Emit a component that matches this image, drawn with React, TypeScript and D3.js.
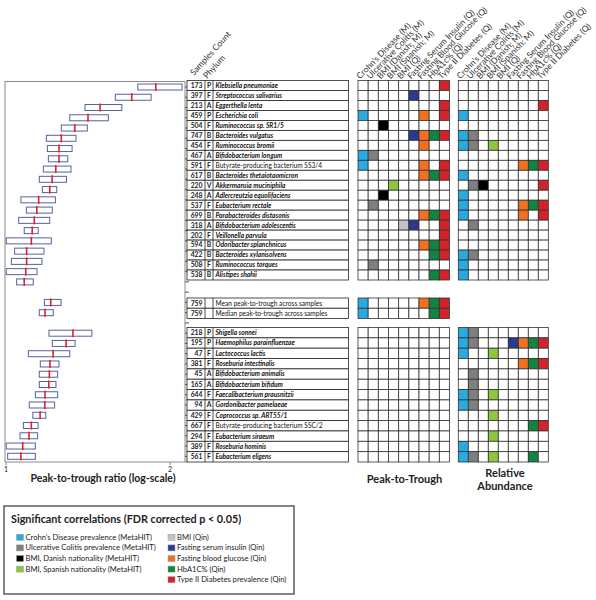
import React from "react";
import * as d3 from "d3";

// ---------- DATA ----------
const topNames = [
  "Klebsiella pneumoniae", "Streptococcus salivarius", "Eggerthella lenta", "Escherichia coli",
  "Ruminococcus sp. SR1/5", "Bacteroides vulgatus", "Ruminococcus bromii", "Bifidobacterium longum",
  "Butyrate-producing bacterium SS3/4", "Bacteroides thetaiotaomicron", "Akkermansia muciniphila",
  "Adlercreutzia equolifaciens", "Eubacterium rectale", "Parabacteroides distasonis",
  "Bifidobacterium adolescentis", "Veillonella parvula", "Odoribacter splanchnicus",
  "Bacteroides xylanisolvens", "Ruminococcus torques", "Alistipes shahii",
];
const topCounts = [173, 397, 213, 459, 504, 747, 454, 467, 591, 617, 220, 248, 537, 699, 318, 202, 594, 422, 508, 538];
const topPhyla = ["P", "F", "A", "P", "F", "B", "F", "A", "F", "B", "V", "A", "F", "B", "A", "F", "B", "B", "F", "B"];
// [q1, median, q3]
const topBoxes = [
  [1.745, 1.883, 2.104], [1.587, 1.701, 1.846], [1.396, 1.488, 1.631], [1.309, 1.414, 1.541],
  [1.263, 1.337, 1.41], [1.186, 1.263, 1.344], [1.191, 1.251, 1.322], [1.196, 1.251, 1.298],
  [1.171, 1.234, 1.316], [1.151, 1.215, 1.291], [1.166, 1.203, 1.239], [1.065, 1.148, 1.232],
  [1.09, 1.139, 1.216], [1.055, 1.127, 1.203], [1.08, 1.117, 1.146], [1.001, 1.113, 1.211],
  [1.037, 1.091, 1.174], [1.023, 1.091, 1.164], [1.001, 1.087, 1.14], [1.046, 1.08, 1.122],
];
const topPT = [[8], [5], [8], [0, 6, 8], [2], [5, 6, 7, 8], [6], [0, 1], [0, 6, 8], [6, 7, 8], [3], [2], [1], [6, 7, 8], [4, 5, 8], [8], [6, 7, 8], [7, 8], [1], [7, 8]];
const topRA = [[], [], [8], [0], [], [0, 1], [0, 1, 3], [], [6, 7, 8], [0], [1, 2, 8], [0], [0, 6, 7, 8], [0, 6, 8], [1], [], [], [0, 1], [0], [0]];

const meanNames = ["Mean peak-to-trough across samples", "Median peak-to-trough across samples"];
const meanCounts = [759, 759];
const meanBoxes = [[1.176, 1.208, 1.262], [1.151, 1.179, 1.221]];
const meanPT = [[0, 6, 7, 8], [0, 7, 8]];

const botNames = [
  "Shigella sonnei", "Haemophilus parainfluenzae", "Lactococcus lactis", "Roseburia intestinalis",
  "Bifidobacterium animalis", "Bifidobacterium bifidum", "Faecalibacterium prausnitzii",
  "Gordonibacter pamelaeae", "Coprococcus sp. ART55/1", "Butyrate-producing bacterium SSC/2",
  "Eubacterium siraeum", "Roseburia hominis", "Eubacterium eligens",
];
const botCounts = [218, 195, 47, 381, 45, 165, 644, 94, 429, 667, 294, 389, 561];
const botPhyla = ["P", "P", "F", "F", "A", "A", "F", "A", "F", "F", "F", "F", "F"];
const botBoxes = [
  [1.199, 1.327, 1.437], [1.216, 1.289, 1.339], [1.099, 1.22, 1.309], [1.156, 1.204, 1.251],
  [1.151, 1.201, 1.244], [1.151, 1.198, 1.235], [1.132, 1.179, 1.244], [1.103, 1.178, 1.228],
  [1.12, 1.155, 1.183], [1.076, 1.113, 1.145], [1.061, 1.102, 1.143], [1.001, 1.073, 1.132],
  [1.007, 1.065, 1.132],
];
const botPT = botNames.map(() => [] as number[]);
const botRA = [[0, 1], [0, 1, 5, 6, 7, 8], [0, 3], [6, 7, 8], [1], [1], [0, 1, 3], [0, 1], [3], [7, 8], [3], [0], [0, 1, 3, 7]];

const columnLabels = [
  "Crohn’s Disease (M)", "Ulcerative Colitis (M)", "BMI (Danish; M)", "BMI (Spanish; M)", "BMI (Q)",
  "Fasting Serum Insulin (Q)", "Fasting Blood Glucose (Q)", "HbA1c% (Q)", "Type II Diabetes (Q)",
];
const colors = ["#29abe2", "#7f7f7f", "#000000", "#8dc63f", "#c4c4c4", "#2b3990", "#f37021", "#108442", "#d2232a"];
const legendLabels = [
  "Crohn’s Disease prevalence (MetaHIT)", "Ulcerative Colitis prevalence (MetaHIT)",
  "BMI, Danish nationality (MetaHIT)", "BMI, Spanish nationality (MetaHIT)", "BMI (Qin)",
  "Fasting serum insulin (Qin)", "Fasting blood glucose (Qin)", "HbA1C% (Qin)",
  "Type II Diabetes prevalence (Qin)",
];
const axisTicks = [1, 2];

const FONT = "Lato, 'Open Sans', sans-serif";

type Block = {
  names: string[]; counts: number[]; phyla: string[] | null; boxes: number[][];
  pt: number[][]; ra: number[][] | null; y0: number; y1: number; slot0: number;
};

export default function App() {
  const W = 596, H = 600;
  const blocks: Block[] = [
    { names: topNames, counts: topCounts, phyla: topPhyla, boxes: topBoxes, pt: topPT, ra: topRA, y0: 80.5, y1: 280, slot0: 0 },
    { names: meanNames, counts: meanCounts, phyla: null, boxes: meanBoxes, pt: meanPT, ra: null, y0: 298, y1: 318.5, slot0: 21 },
    { names: botNames, counts: botCounts, phyla: botPhyla, boxes: botBoxes, pt: botPT, ra: botRA, y0: 327.5, y1: 462, slot0: 24 },
  ];

  const x = d3.scaleLog().domain([1, 2.13]).range([6, 185]);
  const ySlot = d3.scalePoint<number>().domain(d3.range(37)).range([87, 456.3]);
  const colIdx = d3.range(9);
  const xPT = d3.scaleBand<number>().domain(colIdx).range([358, 449.5]);
  const xRA = d3.scaleBand<number>().domain(colIdx).range([458.3, 548.3]);

  const tableLeft = 187, cCountR = 205, cPhyR = 213, tableRight = 348.5;

  const heat = (xs: d3.ScaleBand<number>, data: number[][], yb: d3.ScaleBand<number>, key: string) =>
    data.map((row, r) =>
      colIdx.map((c) => (
        <rect key={`${key}-${r}-${c}`} x={xs(c)} y={yb(r)} width={xs.bandwidth()} height={yb.bandwidth()}
          fill={row.includes(c) ? colors[c] : "#fff"} stroke="#333" strokeWidth={0.8} />
      ))
    );

  return (
    <svg width={W} height={H} style={{ position: "absolute", left: 0, top: 0, background: "#fff" }} fontFamily={FONT}>
      <rect width={W} height={H} fill="#fff" />
      {/* Box plot frame */}
      <g stroke="#8a8a8a" strokeWidth={1} fill="none">
        <line x1={5} x2={5} y1={81} y2={462} />
        <line x1={5} x2={185} y1={81.5} y2={81.5} />
        <line x1={185} x2={185} y1={81} y2={462} />
        <line x1={5} x2={188} y1={462} y2={462} />
        {d3.range(37).map((s) => (
          <line key={`t${s}`} x1={185} x2={189} y1={ySlot(s)} y2={ySlot(s)} stroke="#555" />
        ))}
        {axisTicks.map((t) => (
          <line key={`xt${t}`} x1={x(t)} x2={x(t)} y1={462} y2={465} />
        ))}
      </g>
      {axisTicks.map((t) => (
        <text key={`xl${t}`} x={x(t)} y={472} fontSize={7} textAnchor="middle" fill="#222">{t}</text>
      ))}
      {/* Boxes */}
      {blocks.map((b, bi) =>
        b.boxes.map((bx, i) => {
          const cy = ySlot(b.slot0 + i)!;
          return (
            <g key={`b${bi}-${i}`}>
              <rect x={x(bx[0])} y={cy - 3} width={x(bx[2]) - x(bx[0])} height={6} fill="#fff" stroke="#55639c" strokeWidth={1} />
              <line x1={x(bx[1])} x2={x(bx[1])} y1={cy - 4} y2={cy + 4} stroke="#e0202a" strokeWidth={1.6} />
            </g>
          );
        })
      )}
      {/* Tables and heatmaps */}
      {blocks.map((b, bi) => {
        const yb = d3.scaleBand<number>().domain(d3.range(b.names.length)).range([b.y0, b.y1]);
        return (
          <g key={`blk${bi}`}>
            {b.names.map((n, i) => {
              const y = yb(i)!, h = yb.bandwidth(), cy = y + h / 2;
              const italic = !(n.startsWith("Butyrate") || n.startsWith("Mean") || n.startsWith("Median"));
              return (
                <g key={`row${bi}-${i}`}>
                  <rect x={tableLeft} y={y} width={tableRight - tableLeft} height={h} fill="#fff" stroke="#222" strokeWidth={0.8} />
                  <text x={202.5} y={cy + 2.4} fontSize={6.8} fontWeight={700} textAnchor="end" fill="#222">{b.counts[i]}</text>
                  {b.phyla && (
                    <text x={209} y={cy + 2.4} fontSize={6.8} fontWeight={700} textAnchor="middle" fill="#222">{b.phyla[i]}</text>
                  )}
                  <text x={215.5} y={cy + 2.4} fontSize={6.6} fontWeight={italic ? 700 : 400}
                    fontStyle={italic ? "italic" : "normal"} fill="#111">{n}</text>
                </g>
              );
            })}
            <g stroke="#222" strokeWidth={0.8}>
              <line x1={cCountR} x2={cCountR} y1={b.y0} y2={b.y1} />
              <line x1={cPhyR} x2={cPhyR} y1={b.y0} y2={b.y1} />
            </g>
            {heat(xPT, b.pt, yb, `pt${bi}`)}
            {b.ra && heat(xRA, b.ra, yb, `ra${bi}`)}
          </g>
        );
      })}
      {/* Headers */}
      <text transform="translate(194,76) rotate(-48)" fontSize={8.5} fill="#333">Samples Count</text>
      <text transform="translate(207,79) rotate(-48)" fontSize={8.5} fill="#333">Phylum</text>
      {[xPT, xRA].map((xs, k) =>
        columnLabels.map((l, c) => (
          <text key={`h${k}-${c}`} transform={`translate(${xs(c)! + xs.bandwidth() / 2 - 3},79.5) rotate(-46)`}
            fontSize={8.5} fill="#333">{l}</text>
        ))
      )}
      {/* Axis titles */}
      <text x={103} y={482} fontSize={10.5} fontWeight={700} textAnchor="middle" fill="#222">Peak-to-trough ratio (log-scale)</text>
      <text x={404.5} y={483} fontSize={11} fontWeight={700} textAnchor="middle" fill="#222">Peak-to-Trough</text>
      <text x={505} y={476.5} fontSize={11} fontWeight={700} textAnchor="middle" fill="#222">Relative</text>
      <text x={505} y={490} fontSize={11} fontWeight={700} textAnchor="middle" fill="#222">Abundance</text>
      {/* Legend */}
      <rect x={4} y={506} width={290} height={88} fill="#fff" stroke="#444" strokeWidth={1.3} />
      <text x={11} y={522.5} fontSize={10.8} fontWeight={700} fill="#222">Significant correlations (FDR corrected p &lt; 0.05)</text>
      {legendLabels.map((l, i) => {
        const col = i < 4 ? 0 : 1;
        const r = i < 4 ? i : i - 4;
        const sx = col === 0 ? 16.5 : 168;
        const cy = 537.3 + r * 10.6;
        return (
          <g key={`lg${i}`}>
            <rect x={sx} y={cy - 3} width={7} height={6} fill={colors[i]} stroke="#999" strokeWidth={0.5} />
            <text x={sx + 9} y={cy + 2.5} fontSize={7.6} fill="#222">{l}</text>
          </g>
        );
      })}
    </svg>
  );
}
